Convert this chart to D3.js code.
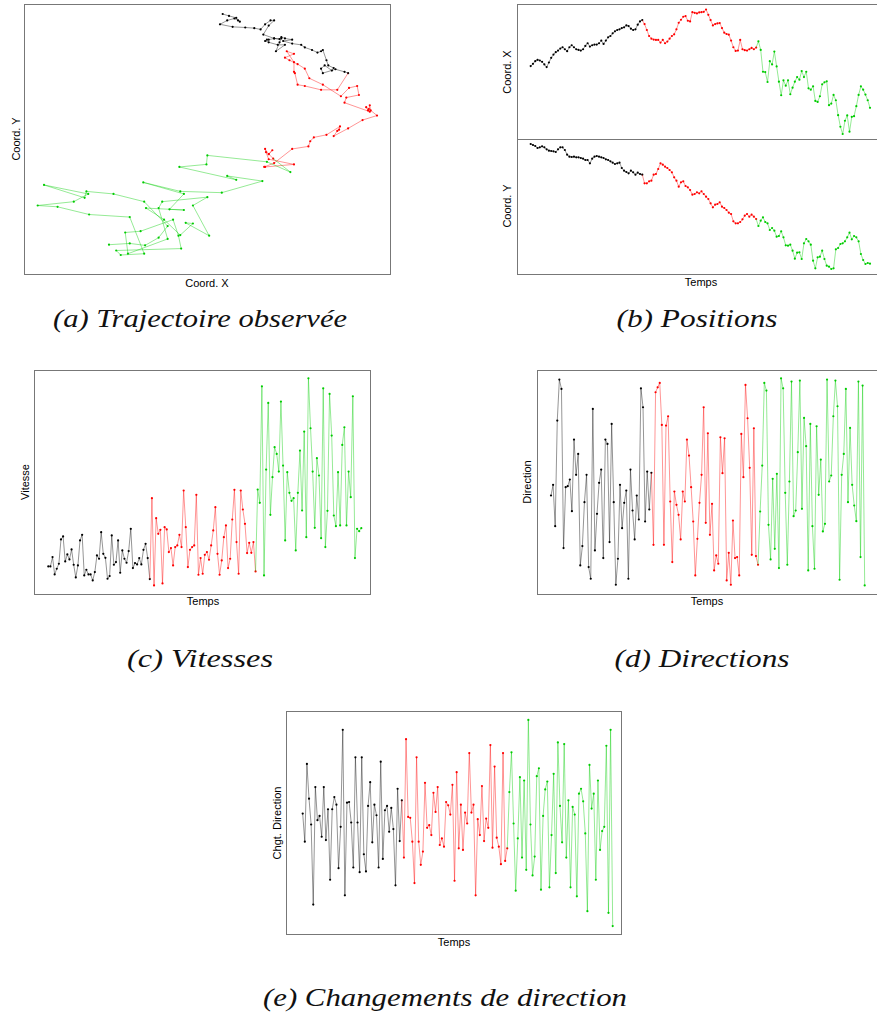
<!DOCTYPE html>
<html><head><meta charset="utf-8">
<script src="https://cdn.jsdelivr.net/npm/d3@7"></script>
<style>
body{margin:0;background:#fff;}
svg{display:block;}
.cap{font-family:"Liberation Serif","DejaVu Serif",serif;font-style:italic;font-size:25px;fill:#111;}
.lab{font-family:"Liberation Sans",Arial,sans-serif;font-size:11px;fill:#000;}
</style></head><body>
<svg id="c" width="877" height="1021"></svg>
<script>
// ---------- data (arbitrary units) ----------
const segmentNames = ["phase 1","phase 2","phase 3"];
const segmentColors = ["#000000","#ff0000","#00cc00"];

const coordX_black = [206,213,221,225,223,219,211,203,217,231,241,248,253,259,263,257,251,263,269,263,257,255,253,257,267,275,265,269,271,271,275,283,273,283,293,297,305,311,315,317,321,323,329,327,319,315,317,331,341,345];
const coordX_red   = [333,315,297,289,286,285,285,277,285,275,280,289,297,302,317,337,346,355,357,343,341,369,367,365,368,369,370,377,361,345,329,333,335,336,321,307,303,301,283,263,252,253,285,257,254,253,257,261,257,262];
const coordX_green = [281,255,189,188,158,221,211,250,205,159,118,163,147,163,121,141,159,173,165,191,173,189,139,135,145,101,98,115,151,157,160,88,93,119,103,58,23,1,41,57,8,53,55,85,119,145,135,120,103,80];

const coordY_black = [375,372,369,363,365,368,365,359,355,354,353,351,359,365,365,357,343,337,336,337,335,335,333,331,327,327,317,331,337,339,337,335,333,329,327,323,319,315,317,319,303,295,291,287,295,290,283,289,285,283];
const coordY_red   = [257,257,263,265,283,285,300,317,313,307,303,297,290,275,265,247,260,263,249,245,237,223,225,230,227,233,225,217,210,197,185,193,195,200,187,183,177,169,165,143,137,137,141,149,160,165,157,163,157,150];
const coordY_green = [129,145,155,141,137,117,123,115,97,99,113,95,71,70,73,55,31,49,50,30,77,90,83,73,25,2,35,37,55,30,10,7,0,2,59,63,75,77,83,95,109,89,99,95,83,45,27,15,18,16];

const vitesse_black = [97,97,125,73,90,105,178,187,112,133,118,148,102,64,100,175,192,70,87,73,73,55,80,130,120,200,135,123,60,68,190,102,110,175,78,145,120,108,143,210,92,107,103,122,103,147,165,122,59];
const vitesse_red   = [302,40,242,195,207,46,215,208,140,152,100,155,160,192,155,325,215,95,147,155,160,312,72,122,75,132,140,117,160,205,275,135,72,115,185,220,92,120,238,327,170,75,325,268,225,137,168,138,170,82];
const vitesse_green = [328,288,638,70,388,588,252,365,455,435,382,592,400,175,380,318,294,302,145,318,445,265,502,185,662,512,382,213,422,370,182,632,155,264,615,490,250,218,380,220,462,515,220,382,305,608,122,210,203,212];

const direction_black = [310,342,218,535,658,630,152,335,338,358,263,478,372,435,100,158,290,372,95,60,570,145,255,348,388,122,478,465,170,525,290,42,120,342,212,288,325,60,388,265,178,310,238,632,575,232,382,268,378];
const direction_red   = [162,620,635,648,522,162,520,548,292,110,322,282,252,178,322,292,478,430,335,232,70,180,288,372,575,228,497,192,285,85,130,105,485,377,482,55,138,42,235,122,125,70,495,365,642,542,393,132,512,128,102];
const direction_green = [262,400,648,625,222,118,360,150,375,92,662,632,318,102,352,652,248,265,440,655,270,543,458,85,525,218,90,518,312,418,202,225,658,352,370,548,655,578,57,372,435,630,290,513,342,280,233,652,125,640,40];

const chgt_black = [375,290,525,420,342,100,455,355,368,305,455,295,388,175,388,425,402,210,335,628,128,408,410,348,212,545,348,198,545,252,200,398,470,288,402,370,212,532,238,385,398,320,392,328,158,450,292,415];
const chgt_red   = [242,600,365,362,290,165,545,290,220,260,468,332,340,310,438,380,455,280,300,275,410,400,372,462,172,500,270,402,265,378,345,558,378,402,128,358,310,458,292,360,332,582,272,517,302,275,222,558,232,270];
const chgt_green = [440,560,345,142,300,485,242,475,205,658,342,188,245,488,512,145,368,448,472,152,310,495,195,590,398,288,585,242,415,152,395,372,125,435,450,412,315,80,522,390,435,175,475,265,322,335,580,75,628,35];

const captions = ["(a) Trajectoire observée","(b) Positions","(c) Vitesses","(d) Directions","(e) Changements de direction"];

// ---------- drawing ----------
const svg = d3.select("#c");
const LW = 0.7, LO = 0.6, PR = 1.1;

function frame(x0,y0,x1,y1){
  svg.append("rect").attr("x",x0+0.5).attr("y",y0+0.5)
    .attr("width",x1-x0).attr("height",y1-y0)
    .attr("fill","none").attr("stroke","#777").attr("stroke-width",1);
}
function label(txt,x,y,rot){
  const t = svg.append("text").attr("class","lab").attr("text-anchor","middle").text(txt);
  if(rot){ t.attr("transform",`translate(${x},${y}) rotate(-90)`); }
  else { t.attr("x",x).attr("y",y); }
}
function padDomain(vals){
  const [lo,hi] = d3.extent(vals); const p=(hi-lo)*0.04; return [lo-p,hi+p];
}
function drawTS(segs, xr, top, bottom){
  const all = segs.flat();
  const x = d3.scaleLinear().domain([0,all.length-1]).range(xr);
  const y = d3.scaleLinear().domain(padDomain(all)).range([bottom,top]);
  const g = svg.append("g");
  let start = 0;
  segs.forEach((s,k)=>{
    const pts = s.map((v,i)=>[start+i,v]);
    const lp = start>0 ? [[start-1,all[start-1]],...pts] : pts;
    g.append("path").attr("d", d3.line().x(d=>x(d[0])).y(d=>y(d[1]))(lp))
      .attr("fill","none").attr("stroke",segmentColors[k]).attr("stroke-width",LW).attr("stroke-opacity",LO);
    g.selectAll(null).data(pts).join("circle")
      .attr("cx",d=>x(d[0])).attr("cy",d=>y(d[1])).attr("r",PR).attr("fill",segmentColors[k]);
    start += s.length;
  });
}

// (a) trajectory
(function(){
  const X = [coordX_black,coordX_red,coordX_green], Y=[coordY_black,coordY_red,coordY_green];
  const x = d3.scaleLinear().domain(d3.extent(X.flat())).range([37.7,377]);
  const y = d3.scaleLinear().domain(d3.extent(Y.flat())).range([255,14]);
  frame(24,4,390,274);
  const g = svg.append("g");
  let prev = null;
  X.forEach((xs,k)=>{
    const pts = xs.map((v,i)=>[v,Y[k][i]]);
    const lp = prev ? [prev,...pts] : pts;
    g.append("path").attr("d", d3.line().x(d=>x(d[0])).y(d=>y(d[1]))(lp))
      .attr("fill","none").attr("stroke",segmentColors[k]).attr("stroke-width",LW).attr("stroke-opacity",LO);
    g.selectAll(null).data(pts).join("circle")
      .attr("cx",d=>x(d[0])).attr("cy",d=>y(d[1])).attr("r",PR).attr("fill",segmentColors[k]);
    prev = pts[pts.length-1];
  });
  label("Coord. X",207,287);
  label("Coord. Y",20,139,true);
})();

// (b) positions
frame(517,4,890,139);
frame(517,139,890,274);
drawTS([coordX_black,coordX_red,coordX_green],[530.7,870],4.5,139);
drawTS([coordY_black,coordY_red,coordY_green],[530.7,870],139,274);
label("Coord. X",511,72,true);
label("Coord. Y",511,206,true);
label("Temps",701,286);

// (c) vitesses
frame(34,370,370,594);
drawTS([vitesse_black,vitesse_red,vitesse_green],[48.3,361.3],370,593.7);
label("Vitesse",29,482,true);
label("Temps",203,605);

// (d) directions
frame(537,370,890,594);
drawTS([direction_black,direction_red,direction_green],[551,864.7],370,593.7);
label("Direction",531,482,true);
label("Temps",707,605);

// (e) changements de direction
frame(286,711,621,934);
drawTS([chgt_black,chgt_red,chgt_green],[302.7,612.7],711.7,934.3);
label("Chgt. Direction",281,823,true);
label("Temps",454,946);

// captions
const capPos = [[200,327,294],[697,327,161],[200,667,146],[702,667,175],[445,1006,364]];
captions.forEach((c,i)=>{
  svg.append("text").attr("class","cap").attr("text-anchor","middle")
    .attr("x",capPos[i][0]).attr("y",capPos[i][1])
    .attr("textLength",capPos[i][2]).attr("lengthAdjust","spacingAndGlyphs").text(c);
});
</script></body></html>
